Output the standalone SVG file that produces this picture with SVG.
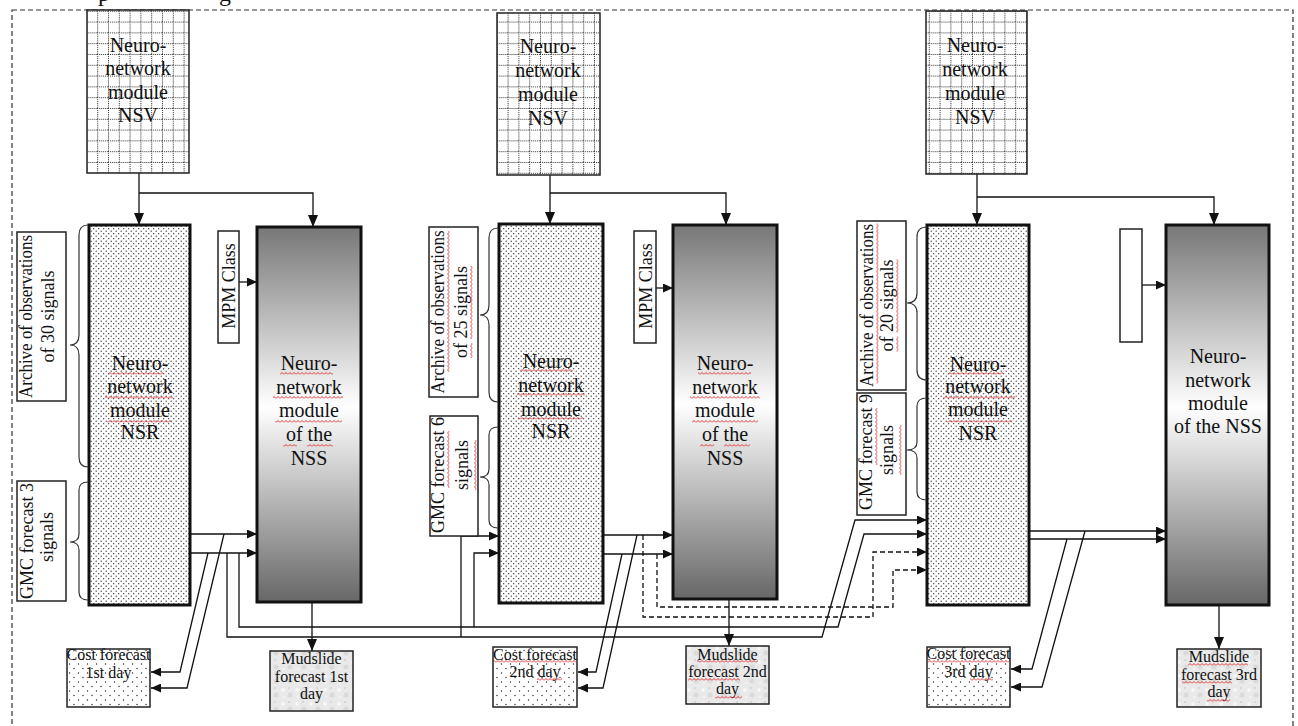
<svg xmlns="http://www.w3.org/2000/svg" width="1298" height="726" viewBox="0 0 1298 726">
<style>
.t{font-family:"Liberation Serif","Times New Roman",serif;fill:#111;text-anchor:middle}
.b{font-size:20px}
.m{font-size:18px}
.s{font-size:16px}
.bx{stroke:#222;stroke-width:1.5}
.th{stroke:#111;stroke-width:3}
.ln{fill:none;stroke:#111;stroke-width:1.3}
.ar{marker-end:url(#ah)}
.av{marker-end:url(#ahv)}
.dash{stroke-dasharray:5,3}
.wv{fill:url(#wv)}
.br{fill:none;stroke:#333;stroke-width:1.2}
</style>
<defs>
<marker id="ah" markerWidth="10" markerHeight="9" refX="10" refY="4.5" orient="auto" markerUnits="userSpaceOnUse"><path d="M0,0 L10,4.5 L0,9z" fill="#111"/></marker>
<marker id="ahv" markerWidth="12" markerHeight="10" refX="12" refY="5" orient="auto" markerUnits="userSpaceOnUse"><path d="M0,0 L12,5 L0,10z" fill="#111"/></marker>
<pattern id="grid" width="10.8" height="10.8" patternUnits="userSpaceOnUse"><rect width="10.8" height="10.8" fill="#fff"/><path d="M0,0.5 H10.8 M0.5,0 V10.8" stroke="#333" stroke-width="1" stroke-dasharray="1,1"/></pattern>
<pattern id="dots" width="5" height="5" patternUnits="userSpaceOnUse"><rect width="5" height="5" fill="#fff"/><circle cx="1.2" cy="1.2" r="0.65" fill="#222"/><circle cx="3.7" cy="3.7" r="0.65" fill="#222"/></pattern>
<pattern id="sdots" width="9" height="9" patternUnits="userSpaceOnUse"><rect width="9" height="9" fill="#fff"/><circle cx="2" cy="2.5" r="0.7" fill="#222"/><circle cx="6.5" cy="7" r="0.7" fill="#222"/></pattern>
<pattern id="tex" width="14" height="14" patternUnits="userSpaceOnUse"><rect width="14" height="14" fill="#e9e9e9"/><circle cx="3" cy="4" r="2" fill="#f6f6f6"/><circle cx="10" cy="9" r="2.5" fill="#dadada"/><circle cx="9" cy="2" r="1" fill="#d2d2d2"/><circle cx="4" cy="11" r="1.2" fill="#f3f3f3"/></pattern>
<pattern id="wv" width="4" height="3" patternUnits="userSpaceOnUse"><path d="M0,2.5 L2,0.5 L4,2.5" fill="none" stroke="#e02020" stroke-width="0.9"/></pattern>
<linearGradient id="gr" x1="0" y1="0" x2="0" y2="1"><stop offset="0" stop-color="#777"/><stop offset="0.48" stop-color="#fff"/><stop offset="1" stop-color="#676767"/></linearGradient>
</defs>

<rect x="0" y="0" width="1298" height="726" fill="#fff"/>
<rect x="12" y="10" width="1281" height="740" fill="none" stroke="#333" stroke-width="1.2" stroke-dasharray="5,3"/>
<text class="t" x="104" y="1" font-size="24">p</text>
<text class="t" x="225" y="1" font-size="24">g</text>

<g id="connectors">
<!-- section 1 -->
<path class="ln av" d="M139,173 V225"/>
<path class="ln av" d="M139,193 H313 V227"/>
<path class="ln ar" d="M239,282 H257"/>
<path class="ln ar" d="M190,534 H257"/>
<path class="ln ar" d="M190,553 H257"/>
<path class="ln ar" d="M224,534 L187,688 H151"/>
<path class="ln ar" d="M208,553 L180,672 H151"/>
<path class="ln ar" d="M227,553 V637 H822 L855,520 H927"/>
<path class="ln ar" d="M239,553 V627 H838 L864,534 H927"/>
<path class="ln av" d="M312,602 V651"/>
<!-- section 2 -->
<path class="ln av" d="M550,175 V224"/>
<path class="ln av" d="M550,193 H726 V225"/>
<path class="ln ar" d="M656,288 H673"/>
<path class="ln ar" d="M461,637 V536 H499"/>
<path class="ln ar" d="M474,627 V553 H499"/>
<path class="ln ar" d="M603,535 H673"/>
<path class="ln ar" d="M603,554 H673"/>
<path class="ln ar" d="M637,535 L603,688 H578"/>
<path class="ln ar" d="M622,554 L596,672 H578"/>
<path class="ln ar dash" d="M643,535 V617 H873 V552 H927"/>
<path class="ln ar dash" d="M657,554 V607 H893 V570 H927"/>
<path class="ln av" d="M729,599 V646"/>
<!-- section 3 -->
<path class="ln av" d="M977,174 V225"/>
<path class="ln av" d="M977,197 H1214 V225"/>
<path class="ln ar" d="M1142,285 H1166"/>
<path class="ln ar" d="M1029,531 H1166"/>
<path class="ln ar" d="M1029,539 H1166"/>
<path class="ln ar" d="M1085,531 L1042,687 H1011"/>
<path class="ln ar" d="M1067,539 L1032,669 H1011"/>
<path class="ln av" d="M1219,605 V649"/>
</g>

<!-- ===== Section 1 ===== -->
<g id="nsv1">
<rect x="87" y="10" width="102" height="163" fill="url(#grid)" class="bx"/>
<text class="t b" x="138" y="52">Neuro-</text><text class="t b" x="138" y="75">network</text><text class="t b" x="138" y="99">module</text><text class="t b" x="138" y="122">NSV</text>
</g>
<g id="nsr1">
<rect x="89" y="225" width="101" height="380" fill="url(#dots)" class="th"/>
<text class="t b" x="140" y="370">Neuro-</text><text class="t b" x="140" y="393">network</text><text class="t b" x="140" y="417">module</text><text class="t b" x="140" y="439">NSR</text>
<rect class="wv" x="108" y="372" width="55" height="3"/><rect class="wv" x="105" y="396" width="68" height="3"/><rect class="wv" x="107" y="420" width="65" height="3"/>
</g>
<g id="nss1">
<rect x="257" y="227" width="104" height="375" fill="url(#gr)" class="th"/>
<text class="t b" x="309" y="370">Neuro-</text><text class="t b" x="309" y="394">network</text><text class="t b" x="309" y="417">module</text><text class="t b" x="309" y="441">of the</text><text class="t b" x="309" y="465">NSS</text>
<rect class="wv" x="280" y="372" width="53" height="3"/><rect class="wv" x="273" y="396" width="70" height="3"/><rect class="wv" x="275" y="420" width="67" height="3"/><rect class="wv" x="283" y="444" width="14" height="3"/><rect class="wv" x="307" y="444" width="26" height="3"/>
</g>
<g id="mpm1">
<rect x="218" y="231" width="21" height="112" fill="#fff" class="bx"/>
<text class="t m" transform="translate(235,286) rotate(-90)">MPM Class</text>
</g>
<g id="archive1">
<rect x="17" y="232" width="49" height="169" fill="#fff" class="bx"/>
<text class="t m" transform="translate(32,316.5) rotate(-90)" textLength="163" lengthAdjust="spacingAndGlyphs">Archive of observations</text>
<text class="t m" transform="translate(54,316.5) rotate(-90)">of 30 signals</text>
<path class="br" d="M88,225 Q79,225 79,235 V335 Q79,345 70,345 Q79,345 79,355 V457 Q79,467 88,467"/>
</g>
<g id="gmc1">
<rect x="17" y="481" width="49" height="120" fill="#fff" class="bx"/>
<text class="t m" transform="translate(33,541) rotate(-90)">GMC forecast 3</text>
<text class="t m" transform="translate(53,537) rotate(-90)">signals</text>
<path class="br" d="M88,482 Q79,482 79,490 V534 Q79,542 70,542 Q79,542 79,550 V592 Q79,600 88,600"/>
</g>
<g id="cost1">
<rect x="67" y="649" width="83" height="58" fill="url(#sdots)" class="bx"/>
<text class="t s" x="108.5" y="660">Cost forecast</text><text class="t s" x="108.5" y="678">1st day</text>
</g>
<g id="mud1">
<rect x="270" y="651" width="83" height="60" fill="url(#tex)" class="bx"/>
<text class="t s" x="311.5" y="664">Mudslide</text><text class="t s" x="311.5" y="682">forecast 1st</text><text class="t s" x="311.5" y="699">day</text>
</g>

<!-- ===== Section 2 ===== -->
<g id="nsv2">
<rect x="497" y="13" width="103" height="162" fill="url(#grid)" class="bx"/>
<text class="t b" x="548" y="53">Neuro-</text><text class="t b" x="548" y="77">network</text><text class="t b" x="548" y="101">module</text><text class="t b" x="548" y="125">NSV</text>
</g>
<g id="nsr2">
<rect x="499" y="224" width="104" height="379" fill="url(#dots)" class="th"/>
<text class="t b" x="551" y="368">Neuro-</text><text class="t b" x="551" y="392">network</text><text class="t b" x="551" y="416">module</text><text class="t b" x="551" y="438">NSR</text>
<rect class="wv" x="520" y="369" width="53" height="3"/><rect class="wv" x="517" y="393" width="68" height="3"/><rect class="wv" x="518" y="417" width="65" height="3"/>
</g>
<g id="nss2">
<rect x="673" y="225" width="104" height="374" fill="url(#gr)" class="th"/>
<text class="t b" x="725" y="370">Neuro-</text><text class="t b" x="725" y="394">network</text><text class="t b" x="725" y="417">module</text><text class="t b" x="725" y="441">of the</text><text class="t b" x="725" y="465">NSS</text>
<rect class="wv" x="698" y="372" width="53" height="3"/><rect class="wv" x="690" y="396" width="70" height="3"/><rect class="wv" x="692" y="420" width="66" height="3"/><rect class="wv" x="700" y="444" width="14" height="3"/><rect class="wv" x="724" y="444" width="26" height="3"/>
</g>
<g id="mpm2">
<rect x="634" y="231" width="22" height="112" fill="#fff" class="bx"/>
<text class="t m" transform="translate(652,286) rotate(-90)">MPM Class</text>
</g>
<g id="archive2">
<rect x="429" y="227" width="49" height="170" fill="#fff" class="bx"/>
<g transform="translate(444,312) rotate(-90)"><text class="t m" textLength="163" lengthAdjust="spacingAndGlyphs">Archive of observations</text><rect class="wv" x="-60" y="3" width="141" height="3"/></g>
<g transform="translate(467,312) rotate(-90)"><text class="t m">of 25 signals</text><rect class="wv" x="-46" y="3" width="15" height="3"/><rect class="wv" x="-27" y="3" width="73" height="3"/></g>
<path class="br" d="M498,228 Q489,228 489,238 V305 Q489,315 480,315 Q489,315 489,325 V392 Q489,402 498,402"/>
</g>
<g id="gmc2">
<rect x="430" y="416" width="48" height="120" fill="#fff" class="bx"/>
<g transform="translate(444,475) rotate(-90)"><text class="t m">GMC forecast 6</text><rect class="wv" x="-13" y="3" width="57" height="3"/></g>
<g transform="translate(468,465) rotate(-90)"><text class="t m">signals</text><rect class="wv" x="-25" y="6" width="50" height="3"/></g>
<path class="br" d="M498,427 Q489,427 489,435 V469 Q489,477 480,477 Q489,477 489,485 V520 Q489,528 498,528"/>
</g>
<g id="cost2">
<rect x="493" y="647" width="84" height="60" fill="url(#sdots)" class="bx"/>
<text class="t s" x="535" y="660">Cost forecast</text><text class="t s" x="535" y="677">2nd day</text>
<rect class="wv" x="494" y="660" width="82" height="3"/><rect class="wv" x="537" y="678" width="25" height="3"/>
</g>
<g id="mud2">
<rect x="686" y="646" width="83" height="58" fill="url(#tex)" class="bx"/>
<text class="t s" x="727.5" y="660">Mudslide</text><text class="t s" x="727.5" y="677">forecast 2nd</text><text class="t s" x="727.5" y="694">day</text>
<rect class="wv" x="697" y="660" width="61" height="3"/><rect class="wv" x="688" y="678" width="52" height="3"/><rect class="wv" x="715" y="696" width="27" height="3"/>
</g>

<!-- ===== Section 3 ===== -->
<g id="nsv3">
<rect x="926" y="11" width="101" height="163" fill="url(#grid)" class="bx"/>
<text class="t b" x="975" y="52">Neuro-</text><text class="t b" x="975" y="76">network</text><text class="t b" x="975" y="100">module</text><text class="t b" x="975" y="124">NSV</text>
</g>
<g id="nsr3">
<rect x="927" y="225" width="102" height="380" fill="url(#dots)" class="th"/>
<text class="t b" x="978" y="371">Neuro-</text><text class="t b" x="978" y="393">network</text><text class="t b" x="978" y="416">module</text><text class="t b" x="978" y="440">NSR</text>
<rect class="wv" x="948" y="372" width="55" height="3"/><rect class="wv" x="943" y="396" width="72" height="3"/><rect class="wv" x="947" y="420" width="65" height="3"/>
</g>
<g id="nss3">
<rect x="1166" y="225" width="103" height="380" fill="url(#gr)" class="th"/>
<text class="t b" x="1218" y="363">Neuro-</text><text class="t b" x="1218" y="387">network</text><text class="t b" x="1218" y="410">module</text><text class="t b" x="1218" y="433">of the NSS</text>
</g>
<g id="box3">
<rect x="1120" y="229" width="22" height="113" fill="#fff" class="bx"/>
</g>
<g id="archive3">
<rect x="857" y="221" width="49" height="169" fill="#fff" class="bx"/>
<g transform="translate(873,305.5) rotate(-90)"><text class="t m" textLength="163" lengthAdjust="spacingAndGlyphs">Archive of observations</text><rect class="wv" x="-78" y="3" width="160" height="3"/></g>
<g transform="translate(893,305.5) rotate(-90)"><text class="t m">of 20 signals</text><rect class="wv" x="-46" y="3" width="15" height="3"/><rect class="wv" x="-27" y="3" width="73" height="3"/></g>
<path class="br" d="M927,227 Q917,227 917,237 V293 Q917,303 907,303 Q917,303 917,313 V370 Q917,380 927,380"/>
</g>
<g id="gmc3">
<rect x="857" y="393" width="49" height="122" fill="#fff" class="bx"/>
<g transform="translate(872,452) rotate(-90)"><text class="t m">GMC forecast 9</text><rect class="wv" x="-13" y="3" width="57" height="3"/></g>
<g transform="translate(893,450) rotate(-90)"><text class="t m">signals</text><rect class="wv" x="-25" y="6" width="50" height="3"/></g>
<path class="br" d="M927,398 Q917,398 917,406 V442 Q917,450 907,450 Q917,450 917,458 V492 Q917,500 927,500"/>
</g>
<g id="cost3">
<rect x="927" y="647" width="83" height="60" fill="url(#sdots)" class="bx"/>
<text class="t s" x="968.5" y="659">Cost forecast</text><text class="t s" x="968.5" y="677">3rd day</text>
<rect class="wv" x="928" y="660" width="81" height="3"/><rect class="wv" x="970" y="678" width="23" height="3"/>
</g>
<g id="mud3">
<rect x="1177" y="649" width="84" height="58" fill="url(#tex)" class="bx"/>
<text class="t s" x="1219" y="662">Mudslide</text><text class="t s" x="1219" y="680">forecast 3rd</text><text class="t s" x="1219" y="697">day</text>
<rect class="wv" x="1188" y="663" width="60" height="3"/><rect class="wv" x="1182" y="681" width="50" height="3"/><rect class="wv" x="1207" y="699" width="23" height="3"/>
</g>
</svg>
